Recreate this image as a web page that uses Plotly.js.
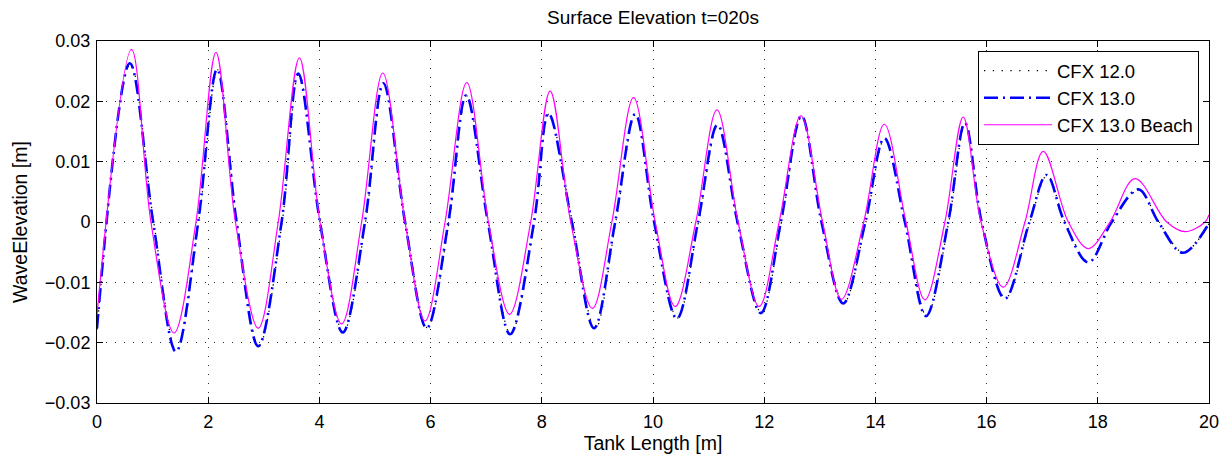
<!DOCTYPE html>
<html>
<head>
<meta charset="utf-8">
<script src="https://cdn.plot.ly/plotly-3.0.1.min.js"></script>
<style>html,body{margin:0;padding:0;background:#fff;}#chart{width:1227px;height:460px;}</style>
</head>
<body>
<div id="chart"></div>
<script>
// CFX 13.0 Beach (magenta)
const beachX = [0, 0.62, 0.97, 1.385, 1.78, 2.14, 2.49, 2.90, 3.26, 3.64, 4.01, 4.40, 4.76, 5.14, 5.54, 5.90, 6.26, 6.65, 7.04, 7.42, 7.80, 8.15, 8.52, 8.91, 9.26, 9.65, 10.04, 10.40, 10.77, 11.15, 11.53, 11.91, 12.27, 12.66, 13.05, 13.39, 13.79, 14.16, 14.55, 14.89, 15.25, 15.58, 15.90, 16.30, 16.69, 17.02, 17.47, 17.83, 18.22, 18.67, 19.24, 19.57, 19.93, 20];
const beachY = [-0.0154, 0.0286, 0, -0.0184, 0, 0.0281, 0, -0.0176, 0, 0.0272, 0, -0.0169, 0, 0.0247, 0, -0.0164, 0, 0.0231, 0, -0.0153, 0, 0.0217, 0, -0.0143, 0, 0.0206, 0, -0.0140, 0, 0.0186, 0, -0.0140, 0, 0.0176, 0, -0.0128, 0, 0.0162, 0, -0.0129, 0, 0.0174, 0, -0.0108, 0, 0.0117, 0, -0.0044, 0, 0.0072, 0, -0.0016, 0, 0.0012];
// CFX 13.0 (blue dash-dot)
const cfx13X = [0, 0.59, 1.01, 1.42, 1.82, 2.16, 2.51, 2.90, 3.32, 3.62, 4.01, 4.42, 4.82, 5.15, 5.54, 5.93, 6.32, 6.64, 7.03, 7.43, 7.86, 8.12, 8.54, 8.94, 9.32, 9.68, 10.02, 10.43, 10.81, 11.16, 11.52, 11.94, 12.30, 12.67, 13.03, 13.42, 13.82, 14.16, 14.53, 14.91, 15.31, 15.61, 15.91, 16.33, 16.77, 17.08, 17.40, 17.83, 18.25, 18.73, 19.09, 19.53, 20];
const cfx13Y = [-0.0176, 0.0263, 0, -0.0215, 0, 0.0253, 0, -0.0206, 0, 0.0246, 0, -0.0183, 0, 0.0230, 0, -0.0176, 0, 0.0210, 0, -0.0186, 0, 0.0180, 0, -0.0176, 0, 0.0179, 0, -0.0160, 0, 0.0161, 0, -0.0151, 0, 0.0176, 0, -0.0135, 0, 0.0139, 0, -0.0156, 0, 0.0164, 0, -0.0127, 0, 0.0078, 0, -0.0067, 0, 0.0054, 0, -0.0051, -0.0002];
// CFX 12.0 (black dotted)
const cfx12X = [0, 0.60, 1.02, 1.43, 1.83, 2.17, 2.52, 2.91, 3.33, 3.63, 4.02, 4.43, 4.83, 5.16, 5.55, 5.94, 6.33, 6.65, 7.04, 7.44, 7.87, 8.13, 8.55, 8.96, 9.33, 9.69, 10.03, 10.44, 10.82, 11.17, 11.53, 11.95, 12.31, 12.68, 13.04, 13.43, 13.83, 14.17, 14.54, 14.92, 15.32, 15.62, 15.92, 16.34, 16.78, 17.09, 17.41, 17.84, 18.26, 18.74, 19.10, 19.54, 20];
const cfx12Y = [-0.0178, 0.0262, 0, -0.0213, 0, 0.0252, 0, -0.0205, 0, 0.0245, 0, -0.0182, 0, 0.0229, 0, -0.0175, 0, 0.0209, 0, -0.0185, 0, 0.0179, 0, -0.0177, 0, 0.0178, 0, -0.0159, 0, 0.0160, 0, -0.0150, 0, 0.0175, 0, -0.0134, 0, 0.0138, 0, -0.0155, 0, 0.0163, 0, -0.0126, 0, 0.0077, 0, -0.0066, 0, 0.0053, 0, -0.0050, -0.0003];

const xTicks = [0, 2, 4, 6, 8, 10, 12, 14, 16, 18, 20];
const yTicks = [-0.03, -0.02, -0.01, 0, 0.01, 0.02, 0.03];
const yTickText = ['\u22120.03', '\u22120.02', '\u22120.01', '0', '0.01', '0.02', '0.03'];

const font = 'Liberation Sans, Arial, sans-serif';

const traces = [
  {x: cfx12X, y: cfx12Y, name: 'CFX 12.0', mode: 'lines', line: {color: '#000000', width: 1.3, dash: '1.3px,7.5px', shape: 'spline', smoothing: 1}},
  {x: cfx13X, y: cfx13Y, name: 'CFX 13.0', mode: 'lines', line: {color: '#0000ff', width: 2.6, dash: '14px,5px,2px,5px', shape: 'spline', smoothing: 1}},
  {x: beachX, y: beachY, name: 'CFX 13.0 Beach', mode: 'lines', line: {color: '#ff00ff', width: 1.2, shape: 'spline', smoothing: 1}}
];

const axisCommon = {
  showline: true, linecolor: '#000', linewidth: 1, mirror: 'ticks',
  ticks: 'inside', ticklen: 6, tickcolor: '#000', tickwidth: 1,
  showgrid: true, gridcolor: '#333', griddash: '1px,8px', gridwidth: 1,
  zeroline: false, tickfont: {family: font, size: 18, color: '#000'}
};

const layout = {
  width: 1227, height: 460,
  margin: {l: 97, r: 18, t: 41, b: 57},
  paper_bgcolor: '#fff', plot_bgcolor: '#fff',
  title: {text: 'Surface Elevation t=020s', font: {family: font, size: 19, color: '#000'}, x: 0.5 + (97-18)/2/1227, xanchor: 'center', y: 0.962, yanchor: 'middle'},
  xaxis: Object.assign({}, axisCommon, {range: [0, 20], tickvals: xTicks, ticktext: xTicks.map(String), ticklabelstandoff: 2,
    title: {text: 'Tank Length [m]', font: {family: font, size: 19.5, color: '#000'}, standoff: 1}}),
  yaxis: Object.assign({}, axisCommon, {range: [-0.03, 0.03], tickvals: yTicks, ticktext: yTickText, ticklabelstandoff: 2,
    title: {text: 'WaveElevation [m]', font: {family: font, size: 19.5, color: '#000'}, standoff: 12}}),
  showlegend: true,
  legend: {x: 0.991, y: 0.972, xanchor: 'right', yanchor: 'top', bgcolor: '#fff', bordercolor: '#000', borderwidth: 1,
    font: {family: font, size: 18.5, color: '#000'}, itemwidth: 68, tracegroupgap: 0},
};

Plotly.newPlot('chart', traces, layout, {displayModeBar: false, staticPlot: true});
</script>
</body>
</html>
